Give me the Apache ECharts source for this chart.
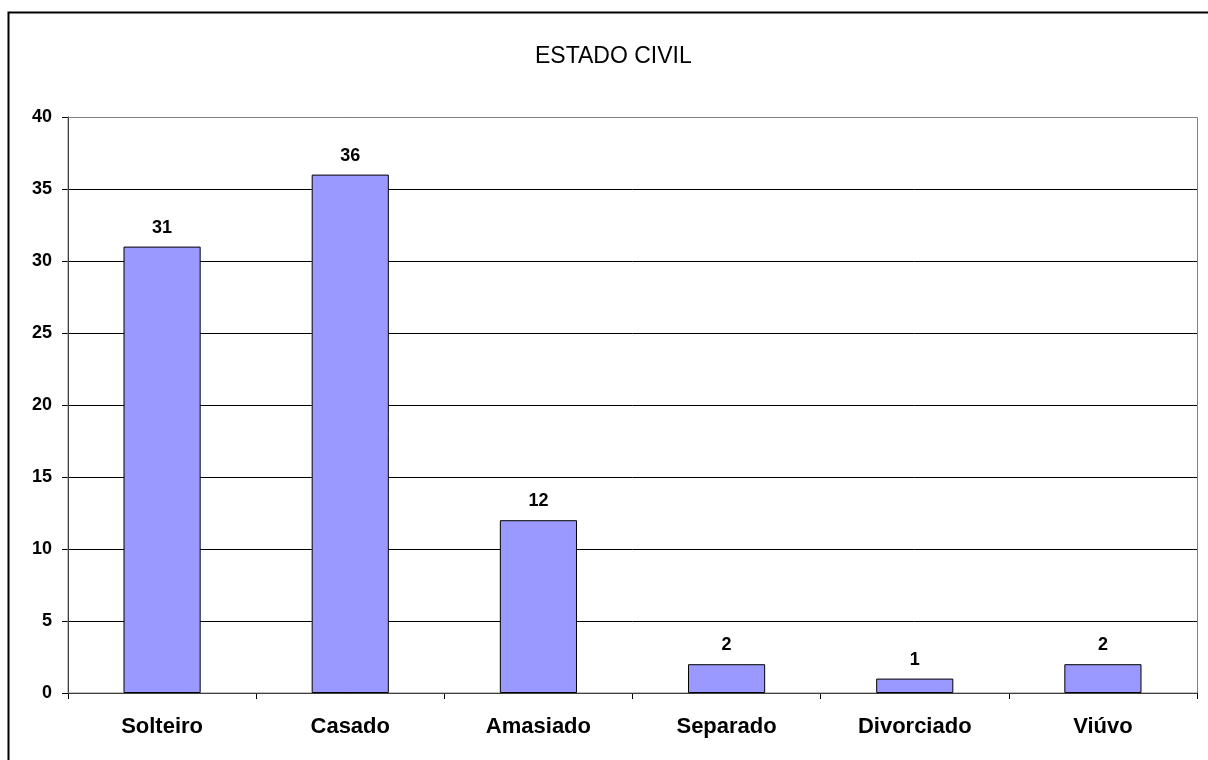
<!DOCTYPE html>
<html>
<head>
<meta charset="utf-8">
<script src="https://cdn.jsdelivr.net/npm/echarts@6/dist/echarts.min.js"></script>
<style>
  html, body { margin: 0; padding: 0; background: #fff; }
  #chart { width: 1208px; height: 760px; }
</style>
</head>
<body>
<div id="chart"></div>
<script>
// Estado civil dos participantes
const categories = ['Solteiro', 'Casado', 'Amasiado', 'Separado', 'Divorciado', 'Viúvo'];
const counts = [31, 36, 12, 2, 1, 2];
const titleText = 'ESTADO CIVIL';

const chart = echarts.init(document.getElementById('chart'), null, { renderer: 'canvas' });
const font = 'Arial, "Liberation Sans", sans-serif';

chart.setOption({
  animation: false,
  backgroundColor: '#ffffff',
  graphic: [{
    type: 'rect',
    shape: { x: 8.5, y: 12.5, width: 1215, height: 760 },
    style: { fill: 'none', stroke: '#000', lineWidth: 2 },
    z: 0
  }, {
    type: 'rect',
    shape: { x: 68, y: 117.5, width: 1129.5, height: 575.5 },
    style: { fill: 'none', stroke: '#808080', lineWidth: 1 },
    z: 1
  }, {
    type: 'text',
    left: 535,
    top: 45,
    style: {
      text: titleText,
      font: 'normal 23px ' + font,
      fill: '#000'
    },
    z: 2
  }],
  grid: { left: 68, right: 11, top: 117, bottom: 67, containLabel: false },
  xAxis: {
    type: 'category',
    data: categories,
    axisLine: { lineStyle: { color: '#000', width: 1 } },
    axisTick: { show: true, alignWithLabel: false, length: 6, lineStyle: { color: '#000' } },
    axisLabel: { fontFamily: font, fontSize: 22, fontWeight: 'bold', color: '#000', margin: 23 }
  },
  yAxis: {
    type: 'value',
    min: 0,
    max: 40,
    interval: 5,
    axisLine: { show: true, lineStyle: { color: '#000', width: 1 } },
    axisTick: { show: true, length: 6, lineStyle: { color: '#000' } },
    axisLabel: { fontFamily: font, fontSize: 18, fontWeight: 'bold', color: '#000', margin: 16 },
    splitLine: { show: true, lineStyle: { color: '#000', width: 1 } }
  },
  series: [{
    type: 'bar',
    data: counts,
    barWidth: '41%',
    itemStyle: { color: '#9999FF', borderColor: '#000', borderWidth: 1 },
    label: {
      show: true,
      position: 'top',
      distance: 10,
      fontFamily: font,
      fontSize: 18,
      fontWeight: 'bold',
      color: '#000'
    }
  }]
});
</script>
</body>
</html>
